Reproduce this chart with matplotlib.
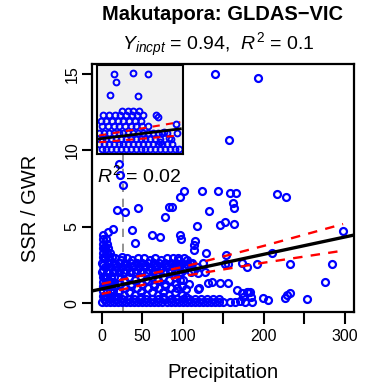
import matplotlib
matplotlib.use("Agg")
import matplotlib.pyplot as plt
import numpy as np

plt.rcParams['font.family'] = ['Liberation Sans', 'DejaVu Sans']
plt.rcParams['mathtext.fontset'] = 'custom'
plt.rcParams['mathtext.rm'] = 'Liberation Sans'
plt.rcParams['mathtext.it'] = 'Liberation Sans:italic'

# ---------------- data ----------------
title = "Makutapora: GLDAS\u2212VIC"
subtitle = r"$\mathit{Y}_{\mathit{incpt}}$ = 0.94,  $\mathit{R}^2$ = 0.1"
inset_r2 = r"$\mathit{R}^2$ = 0.02"
x_label = "Precipitation"
y_label = "SSR / GWR"
x_ticks = [0, 50, 100, 150, 200, 250, 300]
x_tick_labels = ['0', '50', '100', '', '200', '', '300']
y_ticks = [0, 5, 10, 15]
y_tick_labels = ['0', '5', '10', '15']

# scattered points
scatter_x = [140, 192.6, 157, 21.7, 22.6, 26.7, 102, 96.7, 124, 143, 158.4, 165.4, 161.5, 163.7,
             216.8, 227, 18.5, 28.8, 44.4, 83.5, 86.4, 78, 132.8, 146, 152, 163.7, 118, 2, 8.2,
             14.3, 37, 61.7, 72, 96.7, 97.9, 115.2, 114.5, 114.5, 41, 128.4, 154, 209.9, 297.5,
             284, 233, 191.4, 275.7, 253, 232.5, 228.4, 226, 199.5, 205.7, 181, 184.3, 174.8,
             120.5, 135.8, 146, 156, 131, 166.7, 172.8, 179, 183, 104, 100.8, 92.6, 98.8, 119,
             119, 173.6, 179, 152, 156, 94.6, 104.8, 108.6, 24.7]
scatter_y = [15.0, 14.75, 10.67, 9.1, 8.39, 7.73, 7.34, 6.97, 7.36, 7.36, 7.23, 7.19, 6.58, 6.2,
             7.14, 6.92, 6.1, 5.95, 6.2, 6.27, 6.27, 5.66, 6.01, 5.12, 5.29, 5.16, 5.05, 4.46, 4.68,
             4.84, 4.79, 4.46, 4.31, 4.46, 4.2, 4.1, 3.78, 3.45, 3.92, 3.3, 3.16, 3.3, 4.73,
             2.55, 2.55, 2.55, 1.41, 0.26, 0.65, 0.54, 0.33, 0.33, 0.22, 0.76, 0.43, 0.43,
             0.98, 1.41, 1.3, 1.3, 1.33, 0.87, 0.65, 0.76, 0.76, 0.92, 1.52, 0.98, 0.54, 1.96,
             0.92, 2.61, 2.39, 2.6, 2.6, 2.94, 2.83, 2.61, 3.05]

# dense low-precipitation column
column_x = [1, 5, 2, 7, 1, 4, 8, 2, 6, 10, 1, 4, 8, 13,
            1, 4, 7, 11, 15, 2, 5, 9, 13, 1, 4, 8, 12, 16, 2, 6, 10, 14, 1, 4, 7, 11, 15]
column_y = [4.2, 4.2, 3.9, 3.9, 3.6, 3.6, 3.6, 3.3, 3.3, 3.3, 3.0, 3.0, 3.0, 3.0,
            1.7, 1.7, 1.7, 1.7, 1.7, 1.4, 1.4, 1.4, 1.4, 1.1, 1.1, 1.1, 1.1, 1.1,
            0.8, 0.8, 0.8, 0.8, 0.5, 0.5, 0.5, 0.5, 0.5]

# band around SSR/GWR 2-3
band_x = [3, 17, 31, 45, 52, 66, 80, 88, 101,
          10, 24, 38, 59, 73, 95,
          0, 8, 15, 22, 29, 36, 43, 50, 57, 64, 71, 78, 85, 92, 99, 112, 125,
          1, 14, 27, 40, 54, 68, 82, 96, 106,
          4, 11, 18, 25, 32, 39, 46, 53, 60, 67, 74, 81, 88, 95, 102, 118,
          2, 16, 30, 44, 58, 72, 86, 100, 114,
          0, 7, 14, 21, 28, 35, 42, 49, 56, 63, 70, 77, 84, 91, 98, 110, 127]
band_y = [2.95, 2.95, 2.95, 2.95, 2.95, 2.95, 2.95, 2.95, 2.95,
          2.8, 2.8, 2.8, 2.8, 2.8, 2.8,
          2.65, 2.65, 2.65, 2.65, 2.65, 2.65, 2.65, 2.65, 2.65, 2.65, 2.65, 2.65, 2.65, 2.65, 2.65, 2.65, 2.65,
          2.5, 2.5, 2.5, 2.5, 2.5, 2.5, 2.5, 2.5, 2.5,
          2.35, 2.35, 2.35, 2.35, 2.35, 2.35, 2.35, 2.35, 2.35, 2.35, 2.35, 2.35, 2.35, 2.35, 2.35, 2.35,
          2.2, 2.2, 2.2, 2.2, 2.2, 2.2, 2.2, 2.2, 2.2,
          2.05, 2.05, 2.05, 2.05, 2.05, 2.05, 2.05, 2.05, 2.05, 2.05, 2.05, 2.05, 2.05, 2.05, 2.05, 2.05, 2.05]

# middle region
mid_x = [20, 34, 48, 62, 76, 90, 27, 41, 55, 69, 83, 97, 22, 36, 50, 64, 78, 92, 108,
         15, 36, 64, 78, 99,
         29, 43, 57, 71, 85, 20, 34, 48, 62, 76, 90, 27, 41, 55, 69, 83,
         20, 48, 76, 104]
mid_y = [1.75, 1.75, 1.75, 1.75, 1.75, 1.75, 1.5, 1.5, 1.5, 1.5, 1.5, 1.5,
         1.25, 1.25, 1.25, 1.25, 1.25, 1.25, 1.25,
         1.12, 1.12, 1.12, 1.12, 1.12,
         1.0, 1.0, 1.0, 1.0, 1.0,
         0.75, 0.75, 0.75, 0.75, 0.75, 0.75, 0.55, 0.55, 0.55, 0.55, 0.55,
         0.42, 0.42, 0.42, 0.42]

# bottom strip near zero
bottom_x = [0, 5, 10, 15, 20, 25, 30, 35, 40, 45, 50, 55, 60, 65, 70, 75, 80, 85, 90, 95,
            100, 105, 110, 115, 120, 125, 130, 135, 140, 145, 150, 158, 165, 171, 177, 185,
            2.5, 10, 17.5, 25, 32.5, 40, 47.5, 55, 62.5, 70, 77.5, 85, 92.5, 100, 107.5, 115,
            122.5, 130, 137.5, 145]
bottom_y = [0.08, 0.08, 0.08, 0.08, 0.08, 0.08, 0.08, 0.08, 0.08, 0.08, 0.08, 0.08, 0.08, 0.08,
            0.08, 0.08, 0.08, 0.08, 0.08, 0.08, 0.08, 0.08, 0.08, 0.08, 0.08, 0.08, 0.08, 0.08,
            0.08, 0.08, 0.08, 0.1, 0.1, 0.15, 0.1, 0.1,
            0.3, 0.3, 0.3, 0.3, 0.3, 0.3, 0.3, 0.3, 0.3, 0.3, 0.3, 0.3, 0.3, 0.3, 0.3, 0.3,
            0.3, 0.3, 0.3, 0.3]

# regression fit and confidence band
fit_intercept = 0.94
fit_slope = 0.0113
ci_x = [0, 100, 200, 298]
ci_upper = [1.27, 2.37, 3.75, 5.18]
ci_lower = [0.61, 1.77, 2.65, 3.44]
marker_line_x = 26.7

# inset (zoomed panel), in its own 0-100 units
inset_x = [18, 42, 60, 20.5, 14, 48, 70.5, 73,
           28, 35, 42, 49,
           5, 12, 19, 26, 33, 40, 47, 54,
           2, 9, 16, 23, 30, 37, 44, 51,
           4, 11, 18, 25, 32, 39, 46, 53, 60,
           0, 6, 12, 18, 24, 30, 36, 42, 48, 54, 60, 66, 72, 78, 84, 96,
           3, 9, 15, 21, 27, 33, 39, 45, 51, 57, 63, 69, 75, 88,
           0, 6, 12, 18, 24, 30, 36, 42, 48, 54, 60, 66, 72, 78, 84, 90,
           3, 9, 15, 21, 27, 33, 39, 45, 51, 57, 63, 69, 75, 81, 87, 93, 99,
           80, 86, 75, 95]
inset_y = [86, 87, 86, 77, 63, 61.5, 40, 38,
           45, 45, 45, 45,
           40, 40, 40, 40, 40, 40, 40, 40,
           34, 34, 34, 34, 34, 34, 34, 34,
           28, 28, 28, 28, 28, 28, 28, 28, 28,
           20, 20, 20, 20, 20, 20, 20, 20, 20, 20, 20, 20, 20, 20, 20, 20,
           14, 14, 14, 14, 14, 14, 14, 14, 14, 14, 14, 14, 14, 14,
           8, 8, 8, 8, 8, 8, 8, 8, 8, 8, 8, 8, 8, 8, 8, 8,
           3, 3, 3, 3, 3, 3, 3, 3, 3, 3, 3, 3, 3, 3, 3, 3, 3,
           22, 15, 10, 30]
inset_line_x = [0, 100]
inset_fit = [13.8, 25.0]
inset_upper = [17.6, 32.6]
inset_lower = [10.1, 17.6]

# ---------------- plot ----------------
W, H = 367, 389
fig = plt.figure(figsize=(W / 100, H / 100), dpi=100)
ax = fig.add_axes([92 / W, 1 - 312 / H, (354 - 92) / W, (312 - 64) / H])

blue = '#0000FF'
mkw = dict(linestyle='none', marker='o', markerfacecolor='none', markeredgecolor=blue,
           markersize=5.0, markeredgewidth=1.6)

ax.axvline(marker_line_x, color='#808080', lw=1.2, ls=(0, (5, 4)), zorder=1)
for xs, ys in [(bottom_x, bottom_y), (mid_x, mid_y), (band_x, band_y),
               (column_x, column_y), (scatter_x, scatter_y)]:
    ax.plot(xs, ys, zorder=2, **mkw)

xl = np.array([-20, 330])
ax.plot(xl, fit_intercept + fit_slope * xl, color='black', lw=2.4, zorder=4)
ax.plot(ci_x, ci_upper, color='red', lw=1.7, ls=(0, (4, 3.5)), zorder=3)
ax.plot(ci_x, ci_lower, color='red', lw=1.7, ls=(0, (4, 3.5)), zorder=3)

ax.set_xlim(-12, 311.5)
ax.set_ylim(-0.57, 15.64)
ax.set_xticks(x_ticks)
ax.set_xticklabels(x_tick_labels)
ax.set_yticks(y_ticks)
ax.set_yticklabels(y_tick_labels, rotation=90, va='center')
ax.tick_params(axis='x', length=8.5, width=1.5, labelsize=11.5, pad=4)
ax.tick_params(axis='y', length=7.5, width=1.5, labelsize=11.5, pad=1.5)
for s in ax.spines.values():
    s.set_linewidth(1.6)

ax.text(-6, 8.4, inset_r2, fontsize=14, ha='left', va='center', zorder=6)

fig.text(223 / W, 1 - 15 / H, title, fontsize=14.5, fontweight='bold', ha='center', va='center')
fig.text(218 / W, 1 - 45 / H, subtitle, fontsize=14, ha='center', va='center')
fig.text(222.5 / W, 1 - 372 / H, x_label, fontsize=14.5, ha='center', va='center')
fig.text(30 / W, 1 - 208 / H, y_label, fontsize=14.5, ha='center', va='center', rotation=90)

# inset
axi = fig.add_axes([96.7 / W, 1 - 154 / H, 86 / W, 89 / H])
axi.set_facecolor('#F0F0F0')
axi.plot(inset_x, inset_y, linestyle='none', marker='o', markerfacecolor='none',
         markeredgecolor=blue, markersize=4.2, markeredgewidth=1.4, zorder=2)
axi.plot(inset_line_x, inset_fit, color='black', lw=2.0, zorder=4)
axi.plot(inset_line_x, inset_upper, color='red', lw=1.5, ls=(0, (3.5, 3)), zorder=3)
axi.plot(inset_line_x, inset_lower, color='red', lw=1.5, ls=(0, (3.5, 3)), zorder=3)
axi.set_xlim(-3, 103)
axi.set_ylim(-3, 96)
axi.set_xticks([])
axi.set_yticks([])
for s in axi.spines.values():
    s.set_linewidth(1.5)

fig.savefig('out.png', dpi=100)
